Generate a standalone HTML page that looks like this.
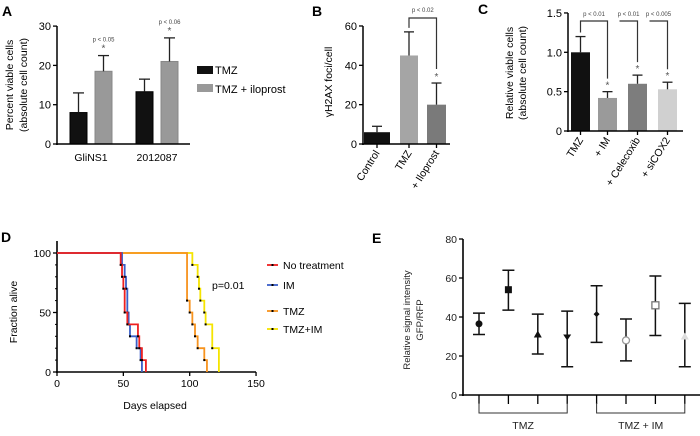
<!DOCTYPE html>
<html><head><meta charset="utf-8">
<style>
html,body{margin:0;padding:0;background:#fff;}
svg{display:block;font-family:"Liberation Sans",sans-serif;}
</style></head>
<body>
<svg id="fig" width="700" height="436" viewBox="0 0 700 436" xmlns="http://www.w3.org/2000/svg">
<g id="gA"></g>
<g id="gB"></g>
<g id="gC"></g>
<g id="gD"></g>
<g id="gE"></g>
</svg>
<script>
// Panel A data
const aGroups = ["GliNS1","2012087"];
const aTMZ = [8, 13.3];
const aTMZErr = [13, 16.5];
const aIlo = [18.5, 21];
const aIloErr = [22.5, 27];
const aTicks = [0,10,20,30];
const aPvals = ["p < 0.05","p < 0.06"];
// Panel B data
const bCats = ["Control","TMZ","+ Iloprost"];
const bVals = [6, 45, 20];
const bErr = [9, 57, 31];
const bTicks = [0,20,40,60];
// Panel C data
const cCats = ["TMZ","+ IM","+ Celecoxib","+ siCOX2"];
const cVals = [1.0, 0.42, 0.6, 0.53];
const cErr = [1.2, 0.5, 0.71, 0.62];
const cTicks = [0,0.5,1.0,1.5];
const cTickLabels = ["0","0.5","1.0","1.5"];
const cPvals = ["p < 0.01","p < 0.01","p < 0.005"];
// Panel D data (step times and fraction after step)
const dNoT = [48,49,50,51,53,61,62,64,67];
const dNoV = [90,80,70,50,40,30,20,10,0];
const dIMT = [49,51,52,53,54,55,60,63,64];
const dIMV = [90,80,70,50,40,30,20,10,0];
const dTmzT = [98,100,102,104,106,111,113];
const dTmzV = [60,50,40,30,20,10,0];
const dTiT = [102,106,107,108,111,112,117,122];
const dTiV = [90,80,70,60,50,40,20,0];
const dXTicks = [0,50,100,150];
const dYTicks = [0,50,100];
// Panel E data
const eMeans = [36.5,54,31,29.5,41.5,28,46,30];
const eLow = [31,43.5,21,14.5,27,17.5,30.5,14.5];
const eHigh = [42,64,41.5,43,56,39,61,47];
const eTicks = [0,20,40,60,80];

const NS="http://www.w3.org/2000/svg";
function mk(parent,tag,attrs,text){const e=document.createElementNS(NS,tag);for(const k in attrs)e.setAttribute(k,attrs[k]);if(text!==undefined)e.textContent=text;parent.appendChild(e);return e;}

// ---------- Panel A ----------
(function(){
const g=document.getElementById('gA');
const y=v=>144-v*3.93;
let t=mk(g,'text',{x:2,y:16,'font-size':14,'font-weight':'bold'},'A');

const bx=[[70,95],[136,161]];
for(let i=0;i<aGroups.length;i++){
 let r=mk(g,'rect',{x:bx[i][0],y:y(aTMZ[i]),width:17,height:144-y(aTMZ[i]),fill:'#111',stroke:'#000'});
 
 mk(g,'line',{x1:bx[i][0]+8.5,x2:bx[i][0]+8.5,y1:y(aTMZ[i]),y2:y(aTMZErr[i]),stroke:'#222','stroke-width':1.3});
 mk(g,'line',{x1:bx[i][0]+3,x2:bx[i][0]+14,y1:y(aTMZErr[i]),y2:y(aTMZErr[i]),stroke:'#222','stroke-width':1.3});
 r=mk(g,'rect',{x:bx[i][1],y:y(aIlo[i]),width:17,height:144-y(aIlo[i]),fill:'#999',stroke:'#888'});
 
 mk(g,'line',{x1:bx[i][1]+8.5,x2:bx[i][1]+8.5,y1:y(aIlo[i]),y2:y(aIloErr[i]),stroke:'#222','stroke-width':1.3});
 mk(g,'line',{x1:bx[i][1]+3,x2:bx[i][1]+14,y1:y(aIloErr[i]),y2:y(aIloErr[i]),stroke:'#222','stroke-width':1.3});
 t=mk(g,'text',{x:bx[i][1]+8.5,y:y(aIloErr[i])-4,'font-size':10,'text-anchor':'middle',fill:'#555'},'*');
 
 t=mk(g,'text',{x:bx[i][1]+8.5,y:y(aIloErr[i])-14,'font-size':6,'text-anchor':'middle',fill:'#444'},aPvals[i]);
 
 t=mk(g,'text',{x:(bx[i][0]+bx[i][1]+17)/2,y:161,'font-size':10.5,'text-anchor':'middle'},aGroups[i]);
 
}
mk(g,'line',{x1:57,x2:57,y1:26,y2:145,stroke:'#000','stroke-width':1.5});
mk(g,'line',{x1:56,x2:190,y1:144,y2:144,stroke:'#000','stroke-width':1.5});
aTicks.forEach(v=>{mk(g,'line',{x1:53,x2:57,y1:y(v),y2:y(v),stroke:'#000','stroke-width':1.3});
 t=mk(g,'text',{x:51,y:y(v)+4,'font-size':11,'text-anchor':'end'},v);
 });
t=mk(g,'text',{transform:'translate(13,85) rotate(-90)','font-size':10.5,'text-anchor':'middle'},'Percent viable cells');

t=mk(g,'text',{transform:'translate(27,85) rotate(-90)','font-size':10.5,'text-anchor':'middle'},'(absolute cell count)');

let r=mk(g,'rect',{x:197,y:66,width:16,height:8,fill:'#111'});
t=mk(g,'text',{x:215,y:74,'font-size':11},'TMZ');
r=mk(g,'rect',{x:197,y:84,width:16,height:8,fill:'#999'});
t=mk(g,'text',{x:215,y:93,'font-size':11},'TMZ + iloprost');
})();

// ---------- Panel B ----------
(function(){
const g=document.getElementById('gB');
const y=v=>144-v*1.967;
let t=mk(g,'text',{x:312,y:16,'font-size':14,'font-weight':'bold'},'B');

const bx=[364,400,427];const bw=[26,18,19];const col=['#111','#a5a5a5','#7a7a7a'];
for(let i=0;i<bCats.length;i++){
 let r=mk(g,'rect',{x:bx[i],y:y(bVals[i]),width:bw[i],height:144-y(bVals[i]),fill:col[i]});
 
 const cx=bx[i]+bw[i]/2;
 mk(g,'line',{x1:cx,x2:cx,y1:y(bVals[i]),y2:y(bErr[i]),stroke:'#222','stroke-width':1.3});
 mk(g,'line',{x1:cx-5,x2:cx+5,y1:y(bErr[i]),y2:y(bErr[i]),stroke:'#222','stroke-width':1.3});
 mk(g,'line',{x1:cx,x2:cx,y1:144,y2:148,stroke:'#000','stroke-width':1.3});
 t=mk(g,'text',{transform:`translate(${cx+3},${153}) rotate(-58)`,'font-size':10.5,'text-anchor':'end'},bCats[i]);
 
}
mk(g,'line',{x1:363,x2:363,y1:26,y2:145,stroke:'#000','stroke-width':1.5});
mk(g,'line',{x1:362,x2:450,y1:144,y2:144,stroke:'#000','stroke-width':1.5});
bTicks.forEach(v=>{mk(g,'line',{x1:359,x2:363,y1:y(v),y2:y(v),stroke:'#000','stroke-width':1.3});
 t=mk(g,'text',{x:357,y:y(v)+4,'font-size':11,'text-anchor':'end'},v);
 });
t=mk(g,'text',{transform:'translate(332,82) rotate(-90)','font-size':10.5,'text-anchor':'middle'},'γH2AX foci/cell');

const x1=bx[1]+bw[1]/2,x2=bx[2]+bw[2]/2;
let p=mk(g,'path',{d:`M${x1} ${y(bErr[1])-4} V18 H${x2} V${y(bErr[2])-14}`,fill:'none',stroke:'#333','stroke-width':1.2});

t=mk(g,'text',{x:(x1+x2)/2,y:12,'font-size':6,'text-anchor':'middle',fill:'#444'},'p < 0.02');

t=mk(g,'text',{x:x2,y:y(bErr[2])-3,'font-size':10,'text-anchor':'middle',fill:'#555'},'*');

})();

// ---------- Panel C ----------
(function(){
const g=document.getElementById('gC');
const y=v=>131-v*78.7;
let t=mk(g,'text',{x:478,y:14,'font-size':14,'font-weight':'bold'},'C');

const bx=[571,598,628,658];const col=['#111','#9a9a9a','#7d7d7d','#d0d0d0'];
const cxs=[];
for(let i=0;i<cCats.length;i++){
 let r=mk(g,'rect',{x:bx[i],y:y(cVals[i]),width:19,height:131-y(cVals[i]),fill:col[i]});
 
 const cx=bx[i]+9.5;cxs.push(cx);
 mk(g,'line',{x1:cx,x2:cx,y1:y(cVals[i]),y2:y(cErr[i]),stroke:'#222','stroke-width':1.3});
 mk(g,'line',{x1:cx-5,x2:cx+5,y1:y(cErr[i]),y2:y(cErr[i]),stroke:'#222','stroke-width':1.3});
 mk(g,'line',{x1:cx,x2:cx,y1:131,y2:135,stroke:'#000','stroke-width':1.3});
 t=mk(g,'text',{transform:`translate(${cx+3},${140}) rotate(-58)`,'font-size':10.5,'text-anchor':'end'},cCats[i]);
 
 if(i>0){t=mk(g,'text',{x:cx,y:y(cErr[i])-3,'font-size':10,'text-anchor':'middle',fill:'#555'},'*');
 }
}
mk(g,'line',{x1:568,x2:568,y1:13,y2:132,stroke:'#000','stroke-width':1.5});
mk(g,'line',{x1:567,x2:683,y1:131,y2:131,stroke:'#000','stroke-width':1.5});
cTicks.forEach((v,i)=>{mk(g,'line',{x1:564,x2:568,y1:y(v),y2:y(v),stroke:'#000','stroke-width':1.3});
 t=mk(g,'text',{x:562,y:y(v)+4,'font-size':11,'text-anchor':'end'},cTickLabels[i]);
 });
t=mk(g,'text',{transform:'translate(513,73) rotate(-90)','font-size':10.5,'text-anchor':'middle'},'Relative viable cells');

t=mk(g,'text',{transform:'translate(526,73) rotate(-90)','font-size':10.5,'text-anchor':'middle'},'(absolute cell count)');

const starts=[cxs[0],(cxs[1]+cxs[2])/2-3,(cxs[2]+cxs[3])/2-3];
const startY=[y(cErr[0])-4,21,21];
for(let k=0;k<3;k++){
 const ex=cxs[k+1];
 let p=mk(g,'path',{d:`M${starts[k]} ${startY[k]} V21 H${ex} V${y(cErr[k+1])-13}`,fill:'none',stroke:'#333','stroke-width':1.2});
 
 t=mk(g,'text',{x:(starts[k]+ex)/2,y:16,'font-size':6,'text-anchor':'middle',fill:'#444'},cPvals[k]);
 
}
})();

// ---------- Panel D ----------
(function(){
const g=document.getElementById('gD');
const x=d=>57+d*1.327, y=v=>372-v*1.19;
let t=mk(g,'text',{x:1,y:242,'font-size':14,'font-weight':'bold'},'D');

mk(g,'line',{x1:57,x2:57,y1:241,y2:373,stroke:'#000','stroke-width':1.6});
mk(g,'line',{x1:56,x2:256,y1:372,y2:372,stroke:'#000','stroke-width':1.6});
dXTicks.forEach(v=>{mk(g,'line',{x1:x(v),x2:x(v),y1:372,y2:376,stroke:'#000','stroke-width':1.3});
 t=mk(g,'text',{x:x(v),y:387,'font-size':10.5,'text-anchor':'middle'},v);
 });
dYTicks.forEach(v=>{mk(g,'line',{x1:53,x2:57,y1:y(v),y2:y(v),stroke:'#000','stroke-width':1.3});
 t=mk(g,'text',{x:51,y:y(v)+4,'font-size':10.5,'text-anchor':'end'},v);
 });
[10,20,30,40,60,70,80,90].forEach(v=>mk(g,'line',{x1:55,x2:57,y1:y(v),y2:y(v),stroke:'#000','stroke-width':1}));
t=mk(g,'text',{x:155,y:409,'font-size':10.5,'text-anchor':'middle'},'Days elapsed');

t=mk(g,'text',{transform:'translate(17,312) rotate(-90)','font-size':10.5,'text-anchor':'middle'},'Fraction alive');

const series=[[dTiT,dTiV,'#f5e400','tmz-im'],[dTmzT,dTmzV,'#f7931e','tmz'],[dIMT,dIMV,'#3a5fc8','im'],[dNoT,dNoV,'#ee2020','no-treatment']];
series.forEach(s=>{
 let d=`M${x(0)} ${y(100)}`;
 s[0].forEach((tt,i)=>{d+=` H${x(tt)} V${y(s[1][i])}`;});
 let p=mk(g,'path',{d:d,fill:'none',stroke:s[2],'stroke-width':1.8});
 
 s[0].forEach((tt,i)=>{if(s[1][i]>0){let c=mk(g,'rect',{x:x(tt)-1,y:y(s[1][i])-1,width:2,height:2,fill:'#000'});
  }});
});
const leg=[['No treatment','#ee2020',265],['IM','#3a5fc8',285],['TMZ','#f7931e',311],['TMZ+IM','#f5e400',329]];
leg.forEach(l=>{mk(g,'line',{x1:267,x2:278,y1:l[2],y2:l[2],stroke:l[1],'stroke-width':1.8});
 mk(g,'rect',{x:271.5,y:l[2]-1,width:2,height:2,fill:'#000'});
 t=mk(g,'text',{x:283,y:l[2]+4,'font-size':10.5},l[0]);
 });
t=mk(g,'text',{x:212,y:289,'font-size':10.5},'p=0.01');

})();

// ---------- Panel E ----------
(function(){
const g=document.getElementById('gE');
const y=v=>395-v*1.95;
const xs=i=>479+i*29.4;
let t=mk(g,'text',{x:372,y:243,'font-size':14,'font-weight':'bold'},'E');

mk(g,'line',{x1:463,x2:463,y1:239,y2:396,stroke:'#000','stroke-width':1.6});
mk(g,'line',{x1:462,x2:700,y1:395,y2:395,stroke:'#000','stroke-width':1.6});
eTicks.forEach(v=>{mk(g,'line',{x1:459,x2:463,y1:y(v),y2:y(v),stroke:'#000','stroke-width':1.3});
 t=mk(g,'text',{x:457,y:y(v)+4,'font-size':10.5,'text-anchor':'end',fill:'#222'},v);
 });
t=mk(g,'text',{transform:'translate(410,320) rotate(-90)','font-size':9.5,'text-anchor':'middle',fill:'#222'},'Relative signal intensity');

t=mk(g,'text',{transform:'translate(423,320) rotate(-90)','font-size':9.5,'text-anchor':'middle',fill:'#222'},'GFP/RFP');

for(let i=0;i<eMeans.length;i++){
 const cx=xs(i);
 mk(g,'line',{x1:cx,x2:cx,y1:395,y2:404,stroke:'#000','stroke-width':1.3});
 let e=mk(g,'path',{d:`M${cx-6} ${y(eHigh[i])} H${cx+6} M${cx} ${y(eHigh[i])} V${y(eLow[i])} M${cx-6} ${y(eLow[i])} H${cx+6}`,stroke:'#111','stroke-width':1.5,fill:'none'});
 
 const my=y(eMeans[i]);let m;
 if(i===0)m=mk(g,'circle',{cx:cx,cy:my,r:3.5,fill:'#111'});
 else if(i===1)m=mk(g,'rect',{x:cx-3.5,y:my-3.5,width:7,height:7,fill:'#111'});
 else if(i===2)m=mk(g,'path',{d:`M${cx} ${my-4} L${cx+4} ${my+3} L${cx-4} ${my+3}Z`,fill:'#111'});
 else if(i===3)m=mk(g,'path',{d:`M${cx} ${my+3} L${cx+4} ${my-3} L${cx-4} ${my-3}Z`,fill:'#111'});
 else if(i===4)m=mk(g,'path',{d:`M${cx} ${my-3} L${cx+3} ${my} L${cx} ${my+3} L${cx-3} ${my}Z`,fill:'#111'});
 else if(i===5)m=mk(g,'circle',{cx:cx,cy:my,r:3.5,fill:'#fff',stroke:'#999','stroke-width':1.3});
 else if(i===6)m=mk(g,'rect',{x:cx-3.5,y:my-3.5,width:7,height:7,fill:'#fff',stroke:'#777','stroke-width':1.3});
 else m=mk(g,'path',{d:`M${cx} ${my-4} L${cx+4} ${my+3} L${cx-4} ${my+3}Z`,fill:'#ddd'});
 
}
const grp=[[0,3,'TMZ'],[4,7,'TMZ + IM']];
grp.forEach(gp=>{
 let p=mk(g,'path',{d:`M${xs(gp[0])} 403 V413 H${xs(gp[1])} V403`,fill:'none',stroke:'#333','stroke-width':1});
 
 t=mk(g,'text',{x:(xs(gp[0])+xs(gp[1]))/2,y:429,'font-size':10.5,'text-anchor':'middle',fill:'#222'},gp[2]);
 
});
})();
</script>
</body></html>
